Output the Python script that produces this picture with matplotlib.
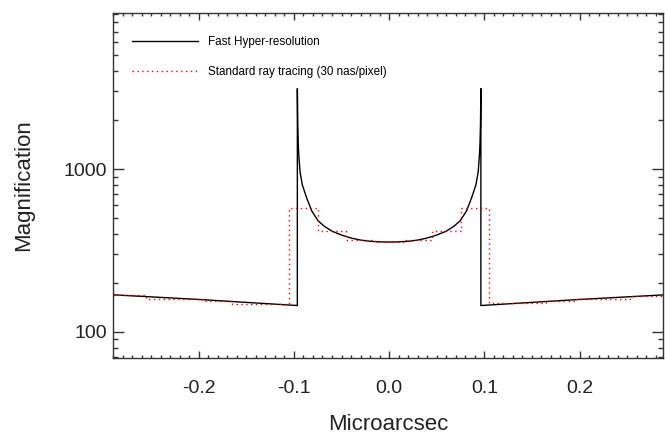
import matplotlib
matplotlib.use("Agg")
import matplotlib.pyplot as plt
import matplotlib.ticker as mticker

plt.rcParams['font.family'] = ['Liberation Sans', 'DejaVu Sans']
plt.rcParams['axes.unicode_minus'] = False

# Fast hyper-resolution light curve
fast_x = [-0.300, -0.200, -0.0964, -0.0964, -0.0960, -0.0955, -0.0950, -0.0936,
          -0.0912, -0.0866, -0.0813, -0.0744, -0.0680, -0.0603, -0.0500, -0.0400,
          -0.0300, -0.0200, -0.0100, 0.0000, 0.0100, 0.0200, 0.0300, 0.0400,
          0.0500, 0.0603, 0.0680, 0.0744, 0.0813, 0.0866, 0.0912, 0.0936,
          0.0950, 0.0955, 0.0960, 0.0964, 0.0964, 0.200, 0.300]
fast_y = [170, 158, 145, 3120, 1900, 1450, 1250, 963,
          800, 665, 553, 479, 445, 416, 393, 377,
          366, 360, 357, 356, 357, 360, 366, 377,
          393, 416, 445, 479, 553, 665, 800, 963,
          1250, 1450, 1900, 3120, 145, 158, 170]

# Standard ray tracing, 30 nas pixels (bin centres)
ray_x = [-0.30, -0.27, -0.24, -0.21, -0.18, -0.15, -0.12, -0.09, -0.06, -0.03, 0.00,
         0.03, 0.06, 0.09, 0.12, 0.15, 0.18, 0.21, 0.24, 0.27, 0.30]
ray_y = [168, 168, 160, 160, 154, 149, 149, 574, 414, 368, 357,
         368, 414, 574, 150, 150, 155, 160, 160, 167, 167]

fig = plt.figure(figsize=(6.65, 4.34), dpi=100)
ax = fig.add_axes([0.170, 0.1751, 0.8277, 0.7958])

ax.plot(fast_x, fast_y, color='black', lw=1.0, label='Fast Hyper-resolution')
ax.step(ray_x, ray_y, where='mid', color='red', lw=1.0, linestyle=(0, (1, 2.5)),
        label='Standard ray tracing (30 nas/pixel)')

ax.set_yscale('log')
ax.set_xlim(-0.290, 0.2882)
ax.set_ylim(69, 9150)

ax.xaxis.set_major_locator(mticker.MultipleLocator(0.1))
ax.xaxis.set_minor_locator(mticker.MultipleLocator(0.01))
ax.xaxis.set_major_formatter(mticker.FormatStrFormatter('%.1f'))
ax.yaxis.set_major_locator(mticker.FixedLocator([100, 1000]))
ax.yaxis.set_minor_locator(mticker.LogLocator(base=10, subs=range(2, 10)))
ax.yaxis.set_major_formatter(mticker.FormatStrFormatter('%d'))
ax.yaxis.set_minor_formatter(mticker.NullFormatter())

spine_col = '#333333'
for s in ax.spines.values():
    s.set_color(spine_col)
    s.set_linewidth(1.0)

ax.tick_params(axis='both', which='both', direction='in', top=True, right=True,
               color=spine_col, width=1.0, labelsize=14, labelcolor='#222222')
ax.tick_params(axis='x', which='major', length=5, pad=15.5)
ax.tick_params(axis='x', which='minor', length=2.5)
ax.tick_params(axis='y', which='major', length=7.7, pad=4.3)
ax.tick_params(axis='y', which='minor', length=3.6)

ax.set_xlabel('Microarcsec', fontsize=16, color='#222222')
ax.set_ylabel('Magnification', fontsize=16, color='#222222')
ax.xaxis.set_label_coords(0.5, -0.162)
ax.yaxis.set_label_coords(-0.1425, 0.5)

ax.legend(loc='upper left', bbox_to_anchor=(0.0345, 0.931), borderaxespad=0,
          borderpad=0, frameon=False, fontsize=8.4, handlelength=5.66,
          handletextpad=0.86, labelspacing=1.49)

fig.savefig('out.png', dpi=100)
